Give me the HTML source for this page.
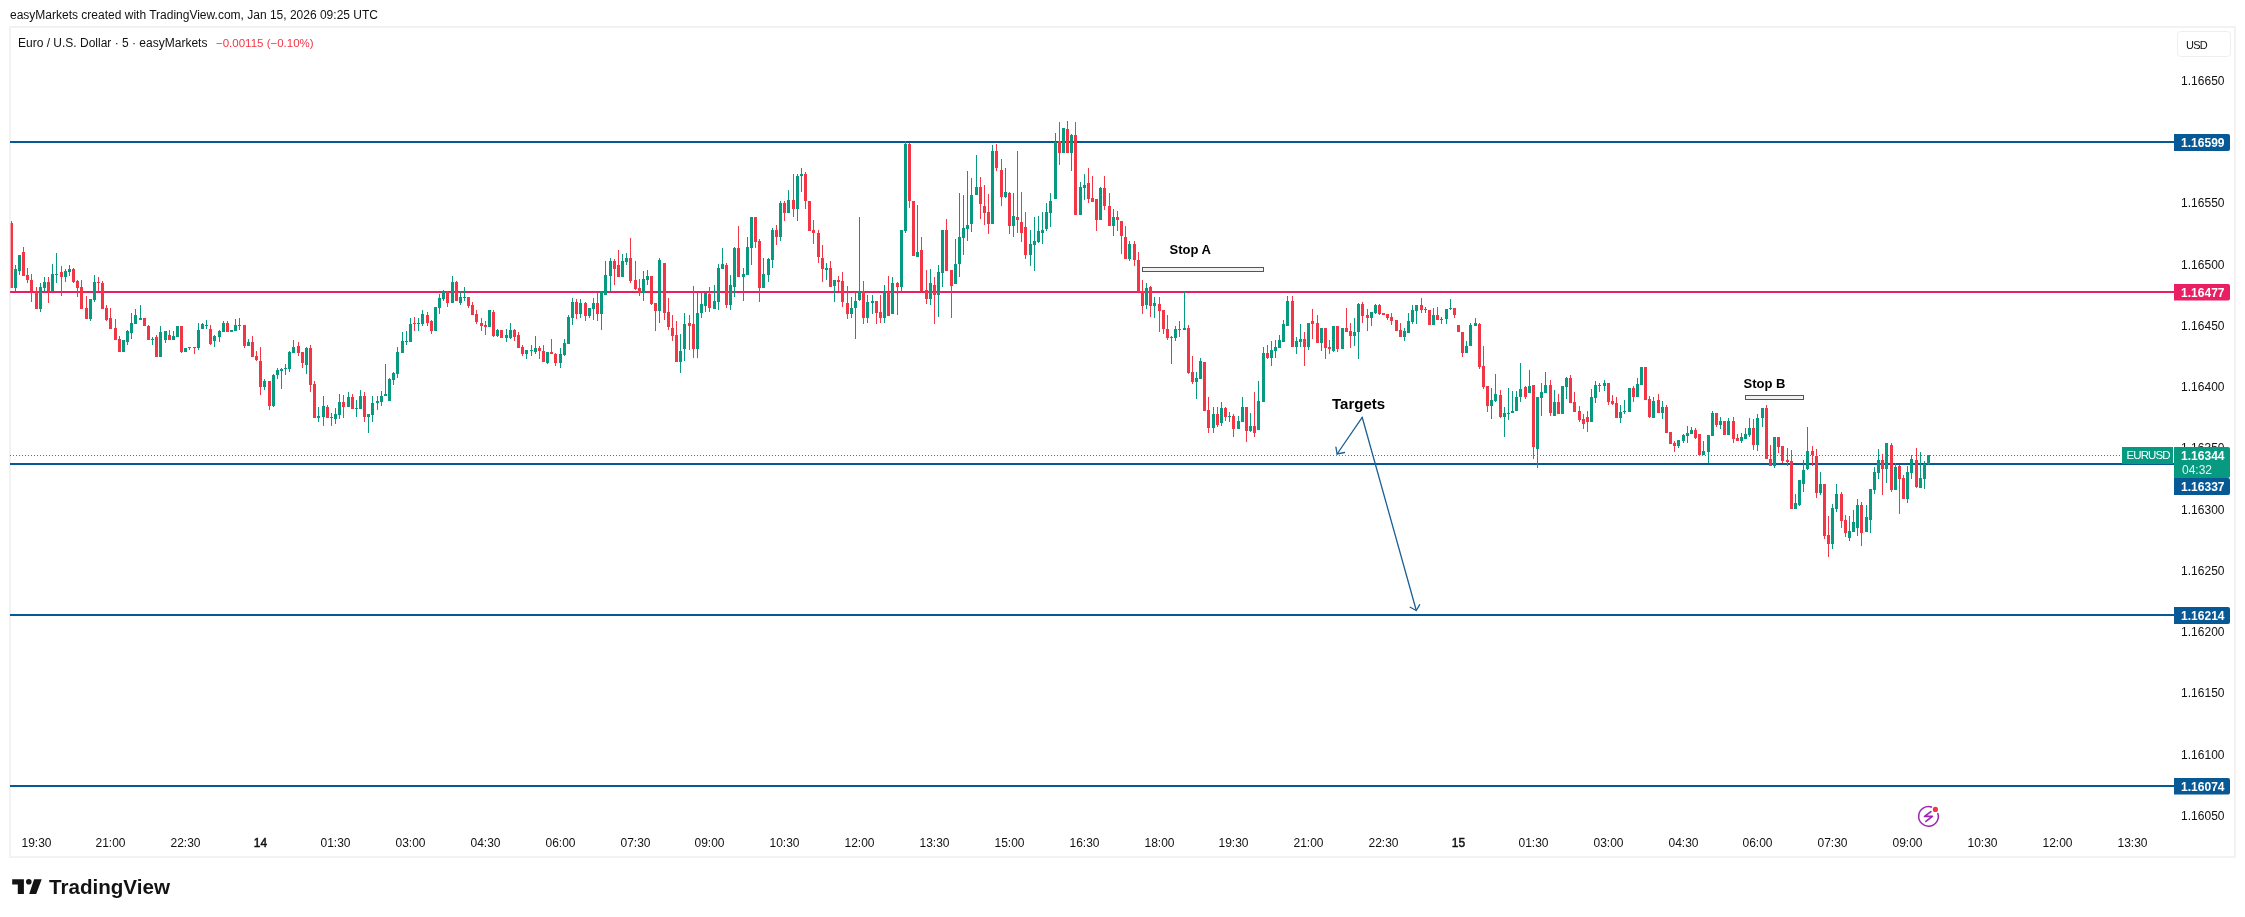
<!DOCTYPE html>
<html><head><meta charset="utf-8"><style>
html,body{margin:0;padding:0;background:#fff;}
body{width:2245px;height:917px;position:relative;overflow:hidden;font-family:"Liberation Sans", sans-serif;}
#frame{position:absolute;left:9px;top:26px;width:2227px;height:832px;box-sizing:border-box;border:2px solid #f2f2f2;}
svg{position:absolute;left:0;top:0;}
.tl{position:absolute;left:0;top:0;width:2245px;height:917px;will-change:transform;}
</style></head><body>
<div id="frame"></div>
<div class="tl"><div style="position:absolute;left:10px;top:15px;font-size:12px;font-weight:normal;color:#111111;line-height:0;white-space:nowrap;">easyMarkets created with TradingView.com, Jan 15, 2026 09:25 UTC</div>
<div style="position:absolute;left:18px;top:42.7px;font-size:12px;font-weight:normal;color:#111111;line-height:0;white-space:nowrap;">Euro / U.S. Dollar · 5 · easyMarkets</div>
<div style="position:absolute;left:216px;top:42.7px;font-size:11.5px;font-weight:normal;color:#f23645;line-height:0;white-space:nowrap;">−0.00115 (−0.10%)</div>
<div style="position:absolute;right:20.5px;top:80.8px;font-size:12px;font-weight:normal;color:#111111;line-height:0;white-space:nowrap;">1.16650</div>
<div style="position:absolute;right:20.5px;top:203.3000000000137px;font-size:12px;font-weight:normal;color:#111111;line-height:0;white-space:nowrap;">1.16550</div>
<div style="position:absolute;right:20.5px;top:264.55000000000695px;font-size:12px;font-weight:normal;color:#111111;line-height:0;white-space:nowrap;">1.16500</div>
<div style="position:absolute;right:20.5px;top:325.80000000000024px;font-size:12px;font-weight:normal;color:#111111;line-height:0;white-space:nowrap;">1.16450</div>
<div style="position:absolute;right:20.5px;top:387.0500000000207px;font-size:12px;font-weight:normal;color:#111111;line-height:0;white-space:nowrap;">1.16400</div>
<div style="position:absolute;right:20.5px;top:448.30000000001394px;font-size:12px;font-weight:normal;color:#111111;line-height:0;white-space:nowrap;">1.16350</div>
<div style="position:absolute;right:20.5px;top:509.5500000000072px;font-size:12px;font-weight:normal;color:#111111;line-height:0;white-space:nowrap;">1.16300</div>
<div style="position:absolute;right:20.5px;top:570.8000000000004px;font-size:12px;font-weight:normal;color:#111111;line-height:0;white-space:nowrap;">1.16250</div>
<div style="position:absolute;right:20.5px;top:632.0500000000209px;font-size:12px;font-weight:normal;color:#111111;line-height:0;white-space:nowrap;">1.16200</div>
<div style="position:absolute;right:20.5px;top:693.300000000014px;font-size:12px;font-weight:normal;color:#111111;line-height:0;white-space:nowrap;">1.16150</div>
<div style="position:absolute;right:20.5px;top:754.5500000000073px;font-size:12px;font-weight:normal;color:#111111;line-height:0;white-space:nowrap;">1.16100</div>
<div style="position:absolute;right:20.5px;top:815.8000000000006px;font-size:12px;font-weight:normal;color:#111111;line-height:0;white-space:nowrap;">1.16050</div></div>
<svg width="2245" height="917" viewBox="0 0 2245 917">
<defs><clipPath id="pane"><rect x="10" y="28" width="2164" height="800"/></clipPath></defs>
<rect x="10" y="141" width="2164" height="2" fill="#075995" shape-rendering="crispEdges"/>
<rect x="10" y="291" width="2164" height="2" fill="#e91e63" shape-rendering="crispEdges"/>
<rect x="10" y="463" width="2164" height="2" fill="#075995" shape-rendering="crispEdges"/>
<rect x="10" y="614" width="2164" height="2" fill="#075995" shape-rendering="crispEdges"/>
<rect x="10" y="785" width="2164" height="2" fill="#075995" shape-rendering="crispEdges"/>
<g clip-path="url(#pane)" shape-rendering="crispEdges">
<path fill="#089981" d="M15 265h1v26h-1zM19 255h1v20h-1zM40 283h1v29h-1zM44 277h1v14h-1zM52 264h1v27h-1zM56 253h1v30h-1zM65 269h1v13h-1zM69 265h1v11h-1zM90 299h1v22h-1zM94 275h1v27h-1zM123 340h1v12h-1zM127 330h1v15h-1zM131 313h1v26h-1zM135 309h1v15h-1zM140 305h1v15h-1zM152 337h1v8h-1zM160 326h1v31h-1zM165 331h1v12h-1zM173 331h1v9h-1zM177 326h1v11h-1zM185 348h1v4h-1zM189 347h1v3h-1zM198 323h1v27h-1zM202 323h1v6h-1zM206 320h1v9h-1zM214 335h1v12h-1zM219 330h1v12h-1zM223 321h1v11h-1zM231 330h1v2h-1zM235 319h1v12h-1zM239 318h1v12h-1zM248 339h1v7h-1zM264 379h1v11h-1zM273 374h1v33h-1zM277 368h1v11h-1zM281 368h1v21h-1zM285 364h1v11h-1zM289 351h1v21h-1zM293 340h1v13h-1zM306 347h1v27h-1zM318 407h1v15h-1zM323 396h1v30h-1zM331 413h1v13h-1zM335 408h1v16h-1zM339 394h1v25h-1zM348 392h1v15h-1zM356 400h1v17h-1zM360 390h1v19h-1zM368 414h1v19h-1zM372 396h1v26h-1zM377 396h1v14h-1zM381 391h1v15h-1zM385 364h1v32h-1zM389 378h1v23h-1zM393 372h1v13h-1zM397 347h1v31h-1zM402 332h1v21h-1zM406 331h1v14h-1zM410 318h1v24h-1zM418 318h1v13h-1zM422 310h1v16h-1zM435 307h1v24h-1zM439 294h1v20h-1zM443 290h1v11h-1zM452 276h1v27h-1zM460 291h1v14h-1zM464 287h1v14h-1zM489 310h1v17h-1zM497 329h1v8h-1zM506 329h1v13h-1zM510 323h1v16h-1zM526 350h1v9h-1zM531 345h1v11h-1zM535 336h1v18h-1zM547 352h1v12h-1zM560 348h1v20h-1zM564 339h1v17h-1zM568 315h1v29h-1zM572 298h1v27h-1zM580 299h1v19h-1zM589 308h1v10h-1zM593 298h1v22h-1zM601 291h1v39h-1zM605 261h1v34h-1zM610 258h1v33h-1zM622 254h1v23h-1zM626 253h1v12h-1zM643 271h1v30h-1zM647 270h1v15h-1zM659 258h1v65h-1zM680 334h1v39h-1zM684 313h1v48h-1zM697 292h1v66h-1zM701 292h1v26h-1zM705 291h1v21h-1zM714 285h1v24h-1zM718 264h1v46h-1zM722 248h1v21h-1zM730 275h1v35h-1zM734 247h1v50h-1zM743 268h1v33h-1zM747 237h1v38h-1zM751 217h1v48h-1zM763 258h1v30h-1zM768 258h1v24h-1zM772 228h1v40h-1zM780 201h1v40h-1zM788 190h1v23h-1zM797 174h1v47h-1zM801 168h1v24h-1zM826 263h1v17h-1zM834 280h1v22h-1zM851 297h1v21h-1zM855 292h1v47h-1zM859 217h1v84h-1zM867 295h1v28h-1zM872 295h1v19h-1zM884 285h1v38h-1zM892 277h1v37h-1zM901 230h1v62h-1zM905 141h1v92h-1zM917 205h1v52h-1zM930 269h1v36h-1zM938 265h1v52h-1zM942 230h1v57h-1zM955 239h1v45h-1zM959 193h1v84h-1zM963 195h1v60h-1zM967 171h1v70h-1zM971 178h1v54h-1zM976 155h1v40h-1zM992 145h1v79h-1zM1005 168h1v30h-1zM1013 193h1v44h-1zM1030 230h1v36h-1zM1034 217h1v54h-1zM1038 216h1v27h-1zM1042 212h1v32h-1zM1046 203h1v28h-1zM1050 193h1v34h-1zM1055 133h1v66h-1zM1063 128h1v25h-1zM1071 134h1v37h-1zM1080 182h1v33h-1zM1084 174h1v26h-1zM1100 187h1v33h-1zM1113 209h1v27h-1zM1129 241h1v20h-1zM1146 283h1v26h-1zM1154 297h1v21h-1zM1171 336h1v28h-1zM1175 326h1v15h-1zM1179 321h1v16h-1zM1184 291h1v39h-1zM1196 372h1v27h-1zM1200 358h1v21h-1zM1213 407h1v26h-1zM1221 402h1v24h-1zM1229 412h1v10h-1zM1238 416h1v13h-1zM1242 397h1v25h-1zM1250 413h1v19h-1zM1258 381h1v49h-1zM1263 347h1v55h-1zM1271 341h1v25h-1zM1275 340h1v18h-1zM1279 335h1v13h-1zM1283 320h1v22h-1zM1287 296h1v30h-1zM1296 337h1v17h-1zM1300 324h1v23h-1zM1308 323h1v27h-1zM1321 328h1v23h-1zM1333 326h1v26h-1zM1342 328h1v21h-1zM1354 318h1v28h-1zM1358 303h1v56h-1zM1371 312h1v14h-1zM1375 304h1v10h-1zM1404 328h1v13h-1zM1408 313h1v20h-1zM1412 305h1v19h-1zM1416 305h1v19h-1zM1425 307h1v6h-1zM1433 308h1v17h-1zM1441 317h1v7h-1zM1446 309h1v15h-1zM1450 299h1v11h-1zM1466 341h1v12h-1zM1470 323h1v23h-1zM1475 318h1v8h-1zM1491 388h1v31h-1zM1495 374h1v28h-1zM1504 407h1v30h-1zM1508 388h1v32h-1zM1512 391h1v22h-1zM1516 391h1v20h-1zM1520 363h1v39h-1zM1529 370h1v23h-1zM1537 397h1v71h-1zM1541 383h1v33h-1zM1545 372h1v21h-1zM1554 390h1v26h-1zM1562 386h1v28h-1zM1566 377h1v22h-1zM1591 389h1v33h-1zM1595 381h1v22h-1zM1599 383h1v9h-1zM1604 380h1v11h-1zM1620 405h1v18h-1zM1624 400h1v14h-1zM1629 388h1v24h-1zM1637 378h1v19h-1zM1641 367h1v18h-1zM1653 397h1v21h-1zM1662 401h1v18h-1zM1678 440h1v8h-1zM1683 434h1v9h-1zM1687 426h1v17h-1zM1691 427h1v7h-1zM1703 441h1v14h-1zM1708 435h1v28h-1zM1712 411h1v25h-1zM1720 417h1v12h-1zM1728 418h1v17h-1zM1741 433h1v10h-1zM1745 428h1v11h-1zM1749 418h1v19h-1zM1757 414h1v37h-1zM1762 408h1v19h-1zM1774 437h1v31h-1zM1795 494h1v15h-1zM1799 480h1v26h-1zM1803 460h1v32h-1zM1807 427h1v43h-1zM1820 472h1v23h-1zM1832 504h1v45h-1zM1836 484h1v28h-1zM1849 516h1v25h-1zM1853 510h1v22h-1zM1857 499h1v37h-1zM1866 505h1v27h-1zM1870 489h1v44h-1zM1874 467h1v27h-1zM1878 449h1v30h-1zM1886 443h1v40h-1zM1895 463h1v27h-1zM1907 466h1v37h-1zM1911 455h1v24h-1zM1920 452h1v36h-1zM1924 461h1v28h-1zM1928 455h1v10h-1zM14 269h3v19h-3zM18 255h3v16h-3zM39 287h3v22h-3zM43 282h3v6h-3zM51 274h3v17h-3zM55 274h3v1h-3zM64 271h3v6h-3zM68 269h3v3h-3zM89 299h3v20h-3zM93 282h3v18h-3zM122 340h3v12h-3zM126 331h3v11h-3zM130 323h3v10h-3zM134 315h3v9h-3zM139 318h3v2h-3zM151 339h3v1h-3zM159 332h3v25h-3zM164 331h3v9h-3zM172 336h3v4h-3zM176 326h3v11h-3zM184 348h3v4h-3zM188 347h3v1h-3zM197 330h3v18h-3zM201 324h3v5h-3zM205 325h3v1h-3zM213 336h3v5h-3zM218 331h3v6h-3zM222 323h3v9h-3zM230 330h3v2h-3zM234 325h3v6h-3zM238 325h3v1h-3zM247 342h3v4h-3zM263 381h3v6h-3zM272 375h3v31h-3zM276 370h3v5h-3zM280 369h3v2h-3zM284 368h3v1h-3zM288 352h3v17h-3zM292 347h3v6h-3zM305 348h3v17h-3zM317 416h3v2h-3zM322 406h3v11h-3zM330 417h3v1h-3zM334 414h3v5h-3zM338 402h3v13h-3zM347 397h3v10h-3zM355 408h3v1h-3zM359 396h3v13h-3zM367 414h3v3h-3zM371 403h3v12h-3zM376 401h3v2h-3zM380 396h3v6h-3zM384 394h3v2h-3zM388 379h3v22h-3zM392 373h3v7h-3zM396 352h3v22h-3zM401 341h3v12h-3zM405 341h3v1h-3zM409 324h3v18h-3zM417 323h3v1h-3zM421 314h3v10h-3zM434 307h3v24h-3zM438 298h3v10h-3zM442 291h3v8h-3zM451 282h3v21h-3zM459 297h3v6h-3zM463 297h3v1h-3zM488 310h3v17h-3zM496 330h3v6h-3zM505 335h3v3h-3zM509 330h3v8h-3zM525 350h3v4h-3zM530 350h3v1h-3zM534 348h3v4h-3zM546 352h3v11h-3zM559 354h3v9h-3zM563 343h3v12h-3zM567 317h3v27h-3zM571 302h3v16h-3zM579 303h3v11h-3zM588 308h3v8h-3zM592 303h3v6h-3zM600 292h3v22h-3zM604 275h3v20h-3zM609 261h3v15h-3zM621 261h3v16h-3zM625 258h3v4h-3zM642 279h3v14h-3zM646 276h3v4h-3zM658 260h3v51h-3zM679 351h3v11h-3zM683 324h3v25h-3zM696 313h3v36h-3zM700 304h3v9h-3zM704 293h3v13h-3zM713 301h3v8h-3zM717 268h3v34h-3zM721 264h3v5h-3zM729 285h3v20h-3zM733 248h3v39h-3zM742 274h3v3h-3zM746 247h3v28h-3zM750 217h3v31h-3zM762 274h3v14h-3zM767 259h3v16h-3zM771 230h3v30h-3zM779 203h3v34h-3zM787 200h3v13h-3zM796 176h3v33h-3zM800 174h3v2h-3zM825 268h3v2h-3zM833 280h3v6h-3zM850 308h3v6h-3zM854 301h3v7h-3zM858 291h3v9h-3zM866 302h3v16h-3zM871 301h3v2h-3zM883 292h3v26h-3zM891 283h3v31h-3zM900 230h3v57h-3zM904 144h3v87h-3zM916 252h3v5h-3zM929 283h3v16h-3zM937 272h3v23h-3zM941 230h3v43h-3zM954 264h3v20h-3zM958 237h3v27h-3zM962 228h3v10h-3zM966 225h3v4h-3zM970 195h3v29h-3zM975 187h3v8h-3zM991 151h3v73h-3zM1004 192h3v5h-3zM1012 216h3v10h-3zM1029 244h3v11h-3zM1033 241h3v4h-3zM1037 231h3v11h-3zM1041 230h3v3h-3zM1045 212h3v17h-3zM1049 201h3v12h-3zM1054 142h3v57h-3zM1062 128h3v25h-3zM1070 135h3v18h-3zM1079 187h3v28h-3zM1083 185h3v3h-3zM1099 188h3v32h-3zM1112 217h3v9h-3zM1128 244h3v15h-3zM1145 288h3v17h-3zM1153 303h3v3h-3zM1170 337h3v1h-3zM1174 329h3v9h-3zM1178 329h3v1h-3zM1183 328h3v2h-3zM1195 378h3v4h-3zM1199 361h3v18h-3zM1212 414h3v14h-3zM1220 408h3v15h-3zM1228 416h3v1h-3zM1237 421h3v8h-3zM1241 407h3v15h-3zM1249 426h3v5h-3zM1257 401h3v29h-3zM1262 353h3v49h-3zM1270 350h3v8h-3zM1274 347h3v4h-3zM1278 340h3v8h-3zM1282 324h3v18h-3zM1286 301h3v25h-3zM1295 341h3v6h-3zM1299 339h3v3h-3zM1307 323h3v24h-3zM1320 328h3v15h-3zM1332 326h3v25h-3zM1341 328h3v21h-3zM1353 332h3v4h-3zM1357 304h3v28h-3zM1370 312h3v6h-3zM1374 305h3v8h-3zM1403 331h3v6h-3zM1407 321h3v12h-3zM1411 310h3v12h-3zM1415 305h3v6h-3zM1424 309h3v1h-3zM1432 315h3v10h-3zM1440 319h3v1h-3zM1445 309h3v10h-3zM1449 308h3v1h-3zM1465 346h3v7h-3zM1469 325h3v21h-3zM1474 323h3v3h-3zM1490 400h3v6h-3zM1494 394h3v7h-3zM1503 413h3v4h-3zM1507 413h3v1h-3zM1511 411h3v2h-3zM1515 397h3v14h-3zM1519 389h3v8h-3zM1528 386h3v7h-3zM1536 397h3v52h-3zM1540 392h3v6h-3zM1544 385h3v8h-3zM1553 402h3v14h-3zM1561 386h3v28h-3zM1565 378h3v9h-3zM1590 397h3v25h-3zM1594 385h3v13h-3zM1598 385h3v1h-3zM1603 383h3v3h-3zM1619 412h3v6h-3zM1623 411h3v1h-3zM1628 388h3v24h-3zM1636 384h3v13h-3zM1640 367h3v18h-3zM1652 401h3v17h-3zM1661 407h3v6h-3zM1677 440h3v6h-3zM1682 435h3v6h-3zM1686 433h3v3h-3zM1690 430h3v4h-3zM1702 451h3v4h-3zM1707 435h3v17h-3zM1711 413h3v23h-3zM1719 421h3v4h-3zM1727 421h3v14h-3zM1740 437h3v4h-3zM1744 434h3v5h-3zM1748 428h3v7h-3zM1756 418h3v27h-3zM1761 408h3v10h-3zM1773 437h3v29h-3zM1794 503h3v6h-3zM1798 480h3v25h-3zM1802 470h3v14h-3zM1806 451h3v18h-3zM1819 484h3v9h-3zM1831 508h3v36h-3zM1835 494h3v15h-3zM1848 531h3v7h-3zM1852 522h3v10h-3zM1856 505h3v23h-3zM1865 517h3v15h-3zM1869 489h3v31h-3zM1873 472h3v18h-3zM1877 460h3v13h-3zM1885 443h3v26h-3zM1894 467h3v23h-3zM1906 472h3v27h-3zM1910 459h3v14h-3zM1919 478h3v10h-3zM1923 464h3v15h-3zM1927 455h3v9h-3z"/>
<path fill="#f23645" d="M11 221h1v67h-1zM23 247h1v29h-1zM27 268h1v15h-1zM31 274h1v28h-1zM36 287h1v22h-1zM48 277h1v26h-1zM61 266h1v30h-1zM73 268h1v15h-1zM77 280h1v17h-1zM81 280h1v29h-1zM86 296h1v23h-1zM98 277h1v15h-1zM102 281h1v28h-1zM106 305h1v16h-1zM110 308h1v21h-1zM115 319h1v21h-1zM119 336h1v16h-1zM144 318h1v8h-1zM148 325h1v15h-1zM156 335h1v22h-1zM169 330h1v10h-1zM181 326h1v27h-1zM194 347h1v7h-1zM210 325h1v20h-1zM227 321h1v11h-1zM244 325h1v23h-1zM252 336h1v21h-1zM256 351h1v10h-1zM260 347h1v48h-1zM269 381h1v29h-1zM298 342h1v14h-1zM302 352h1v16h-1zM310 345h1v47h-1zM314 381h1v37h-1zM327 405h1v13h-1zM343 395h1v23h-1zM352 394h1v15h-1zM364 392h1v30h-1zM414 317h1v14h-1zM427 312h1v14h-1zM431 320h1v14h-1zM447 291h1v16h-1zM456 281h1v20h-1zM468 297h1v11h-1zM472 302h1v13h-1zM476 310h1v14h-1zM481 318h1v13h-1zM485 321h1v14h-1zM493 310h1v27h-1zM501 330h1v8h-1zM514 329h1v12h-1zM518 332h1v16h-1zM522 345h1v11h-1zM539 346h1v13h-1zM543 345h1v17h-1zM551 339h1v15h-1zM555 353h1v13h-1zM576 299h1v20h-1zM585 302h1v19h-1zM597 292h1v29h-1zM614 259h1v26h-1zM618 250h1v27h-1zM630 238h1v45h-1zM635 261h1v29h-1zM639 279h1v17h-1zM651 276h1v29h-1zM655 303h1v28h-1zM664 263h1v57h-1zM668 298h1v32h-1zM672 315h1v26h-1zM676 321h1v41h-1zM689 315h1v35h-1zM693 286h1v72h-1zM709 287h1v25h-1zM726 263h1v45h-1zM738 226h1v51h-1zM755 217h1v31h-1zM759 239h1v63h-1zM776 225h1v20h-1zM784 201h1v20h-1zM793 174h1v43h-1zM805 172h1v37h-1zM809 201h1v30h-1zM813 220h1v24h-1zM818 230h1v33h-1zM822 245h1v37h-1zM830 261h1v26h-1zM838 276h1v15h-1zM842 272h1v35h-1zM847 286h1v33h-1zM863 281h1v43h-1zM876 301h1v23h-1zM880 295h1v28h-1zM888 276h1v40h-1zM897 282h1v33h-1zM909 143h1v65h-1zM913 201h1v55h-1zM921 237h1v54h-1zM926 270h1v34h-1zM934 277h1v47h-1zM946 219h1v52h-1zM951 270h1v48h-1zM980 177h1v42h-1zM984 185h1v40h-1zM988 194h1v40h-1zM996 144h1v27h-1zM1001 159h1v47h-1zM1009 192h1v42h-1zM1017 151h1v82h-1zM1021 192h1v50h-1zM1025 212h1v47h-1zM1059 122h1v43h-1zM1067 121h1v32h-1zM1075 122h1v93h-1zM1088 168h1v35h-1zM1092 176h1v26h-1zM1096 199h1v32h-1zM1104 176h1v34h-1zM1109 193h1v33h-1zM1117 211h1v20h-1zM1121 221h1v33h-1zM1125 226h1v33h-1zM1134 241h1v25h-1zM1138 252h1v40h-1zM1142 280h1v34h-1zM1150 286h1v31h-1zM1159 297h1v35h-1zM1163 310h1v24h-1zM1167 315h1v25h-1zM1188 325h1v49h-1zM1192 356h1v28h-1zM1204 362h1v49h-1zM1208 397h1v36h-1zM1217 407h1v20h-1zM1225 407h1v14h-1zM1233 414h1v23h-1zM1246 407h1v35h-1zM1254 392h1v45h-1zM1267 345h1v14h-1zM1292 296h1v51h-1zM1304 332h1v34h-1zM1312 309h1v30h-1zM1317 315h1v28h-1zM1325 328h1v31h-1zM1329 340h1v14h-1zM1337 326h1v26h-1zM1346 308h1v24h-1zM1350 323h1v25h-1zM1362 302h1v21h-1zM1367 309h1v22h-1zM1379 304h1v11h-1zM1383 313h1v2h-1zM1387 314h1v6h-1zM1391 313h1v12h-1zM1396 320h1v11h-1zM1400 323h1v14h-1zM1421 298h1v15h-1zM1429 310h1v15h-1zM1437 307h1v13h-1zM1454 308h1v10h-1zM1458 325h1v7h-1zM1462 332h1v25h-1zM1479 323h1v46h-1zM1483 346h1v43h-1zM1487 386h1v26h-1zM1500 390h1v28h-1zM1525 386h1v13h-1zM1533 385h1v74h-1zM1550 380h1v36h-1zM1558 394h1v20h-1zM1570 375h1v28h-1zM1574 392h1v20h-1zM1579 406h1v16h-1zM1583 414h1v15h-1zM1587 411h1v21h-1zM1608 383h1v22h-1zM1612 395h1v10h-1zM1616 397h1v21h-1zM1633 386h1v16h-1zM1645 367h1v33h-1zM1649 396h1v22h-1zM1658 394h1v19h-1zM1666 405h1v28h-1zM1670 432h1v12h-1zM1674 441h1v11h-1zM1695 428h1v11h-1zM1699 434h1v21h-1zM1716 413h1v14h-1zM1724 421h1v14h-1zM1733 417h1v26h-1zM1737 434h1v7h-1zM1753 419h1v31h-1zM1766 405h1v54h-1zM1770 445h1v21h-1zM1778 437h1v16h-1zM1782 446h1v17h-1zM1787 448h1v18h-1zM1791 450h1v59h-1zM1812 446h1v20h-1zM1816 449h1v49h-1zM1824 484h1v55h-1zM1828 516h1v41h-1zM1841 492h1v36h-1zM1845 515h1v22h-1zM1861 502h1v44h-1zM1882 454h1v41h-1zM1891 443h1v49h-1zM1899 465h1v49h-1zM1903 475h1v24h-1zM1916 448h1v40h-1zM10 223h3v65h-3zM22 252h3v24h-3zM26 275h3v5h-3zM30 280h3v11h-3zM35 291h3v18h-3zM47 282h3v9h-3zM60 272h3v5h-3zM72 269h3v13h-3zM76 281h3v7h-3zM80 287h3v22h-3zM85 308h3v11h-3zM97 282h3v1h-3zM101 283h3v26h-3zM105 308h3v12h-3zM109 318h3v11h-3zM114 328h3v12h-3zM118 339h3v13h-3zM143 318h3v8h-3zM147 326h3v14h-3zM155 337h3v20h-3zM168 335h3v5h-3zM180 326h3v26h-3zM193 347h3v1h-3zM209 329h3v15h-3zM226 323h3v9h-3zM243 325h3v21h-3zM251 342h3v15h-3zM255 356h3v4h-3zM259 361h3v26h-3zM268 381h3v25h-3zM297 346h3v7h-3zM301 352h3v11h-3zM309 348h3v37h-3zM313 384h3v34h-3zM326 407h3v11h-3zM342 402h3v5h-3zM351 397h3v12h-3zM363 396h3v21h-3zM413 323h3v1h-3zM426 315h3v8h-3zM430 321h3v10h-3zM446 292h3v11h-3zM455 282h3v19h-3zM467 297h3v9h-3zM471 305h3v10h-3zM475 314h3v8h-3zM480 323h3v3h-3zM484 325h3v2h-3zM492 312h3v24h-3zM500 330h3v8h-3zM513 330h3v7h-3zM517 335h3v13h-3zM521 347h3v7h-3zM538 348h3v3h-3zM542 351h3v11h-3zM550 352h3v2h-3zM554 354h3v9h-3zM575 302h3v12h-3zM584 303h3v13h-3zM596 303h3v11h-3zM613 261h3v8h-3zM617 265h3v12h-3zM629 258h3v23h-3zM634 280h3v9h-3zM638 288h3v5h-3zM650 276h3v28h-3zM654 303h3v8h-3zM663 263h3v50h-3zM667 312h3v15h-3zM671 328h3v8h-3zM675 335h3v27h-3zM688 323h3v3h-3zM692 324h3v25h-3zM708 294h3v14h-3zM725 265h3v40h-3zM737 248h3v29h-3zM754 217h3v25h-3zM758 241h3v47h-3zM775 230h3v7h-3zM783 203h3v10h-3zM792 200h3v9h-3zM804 174h3v27h-3zM808 201h3v30h-3zM812 230h3v3h-3zM817 233h3v24h-3zM821 258h3v11h-3zM829 268h3v19h-3zM837 280h3v2h-3zM841 281h3v21h-3zM846 303h3v11h-3zM862 291h3v27h-3zM875 301h3v12h-3zM879 312h3v6h-3zM887 292h3v24h-3zM896 283h3v4h-3zM908 144h3v57h-3zM912 201h3v55h-3zM920 250h3v41h-3zM925 290h3v9h-3zM933 285h3v10h-3zM945 230h3v41h-3zM950 270h3v16h-3zM979 187h3v17h-3zM983 206h3v7h-3zM987 212h3v12h-3zM995 151h3v17h-3zM1000 170h3v27h-3zM1008 193h3v33h-3zM1016 217h3v3h-3zM1020 222h3v11h-3zM1024 227h3v28h-3zM1058 141h3v12h-3zM1066 129h3v24h-3zM1074 135h3v80h-3zM1087 183h3v16h-3zM1091 198h3v4h-3zM1095 199h3v21h-3zM1103 188h3v18h-3zM1108 206h3v20h-3zM1116 217h3v3h-3zM1120 221h3v15h-3zM1124 237h3v22h-3zM1133 244h3v16h-3zM1137 260h3v32h-3zM1141 291h3v15h-3zM1149 287h3v19h-3zM1158 304h3v7h-3zM1162 310h3v19h-3zM1166 329h3v9h-3zM1187 328h3v45h-3zM1191 372h3v10h-3zM1203 362h3v49h-3zM1207 410h3v18h-3zM1216 414h3v11h-3zM1224 408h3v9h-3zM1232 416h3v13h-3zM1245 407h3v24h-3zM1253 426h3v7h-3zM1266 353h3v5h-3zM1291 301h3v46h-3zM1303 339h3v8h-3zM1311 321h3v3h-3zM1316 323h3v20h-3zM1324 328h3v20h-3zM1328 347h3v2h-3zM1336 326h3v23h-3zM1345 328h3v4h-3zM1349 331h3v5h-3zM1361 304h3v12h-3zM1366 315h3v3h-3zM1378 305h3v9h-3zM1382 313h3v2h-3zM1386 314h3v4h-3zM1390 317h3v4h-3zM1395 320h3v11h-3zM1399 330h3v7h-3zM1420 305h3v5h-3zM1428 310h3v15h-3zM1436 315h3v5h-3zM1453 308h3v7h-3zM1457 325h3v7h-3zM1461 332h3v21h-3zM1478 324h3v43h-3zM1482 366h3v21h-3zM1486 386h3v20h-3zM1499 395h3v22h-3zM1524 387h3v10h-3zM1532 385h3v62h-3zM1549 385h3v28h-3zM1557 402h3v12h-3zM1569 378h3v25h-3zM1573 402h3v10h-3zM1578 411h3v9h-3zM1582 419h3v5h-3zM1586 417h3v5h-3zM1607 383h3v19h-3zM1611 401h3v3h-3zM1615 403h3v15h-3zM1632 388h3v9h-3zM1644 367h3v33h-3zM1648 399h3v18h-3zM1657 400h3v13h-3zM1665 407h3v26h-3zM1669 432h3v12h-3zM1673 443h3v3h-3zM1694 430h3v8h-3zM1698 434h3v21h-3zM1715 413h3v12h-3zM1723 421h3v14h-3zM1732 421h3v18h-3zM1736 438h3v3h-3zM1752 428h3v17h-3zM1765 408h3v51h-3zM1769 459h3v7h-3zM1777 437h3v10h-3zM1781 446h3v15h-3zM1786 460h3v2h-3zM1790 461h3v48h-3zM1811 451h3v4h-3zM1815 456h3v37h-3zM1823 484h3v52h-3zM1827 535h3v9h-3zM1840 494h3v27h-3zM1844 520h3v13h-3zM1860 505h3v28h-3zM1881 460h3v9h-3zM1890 445h3v45h-3zM1898 466h3v13h-3zM1902 478h3v21h-3zM1915 460h3v27h-3z"/>
</g>
<rect x="10" y="221" width="1" height="67" fill="#f6f6f6" opacity="0.6"/>
<line x1="10" y1="455.5" x2="2122" y2="455.5" stroke="#089981" stroke-width="1" stroke-dasharray="1 2" shape-rendering="crispEdges"/>
<rect x="1142.5" y="267.5" width="121" height="4" fill="#f2f2f2" stroke="#555" stroke-width="1"/>
<rect x="1745.5" y="395.5" width="58" height="4" fill="#f2f2f2" stroke="#555" stroke-width="1"/>
<g stroke="#1a5f95" stroke-width="1.3" fill="none" stroke-linecap="round"><path d="M1362.2 417.3 L1337.1 454"/><path d="M1335.9 447.1 L1337.1 454 L1344.6 452.5"/><path d="M1362.2 417.3 L1416.3 610.5"/><path d="M1410.2 607.2 L1416.3 610.5 L1419.7 604.7"/></g>
<g fill="none" stroke="#9c27b0" stroke-width="1.5"><path d="M1937.85 813.45 A9.8 9.8 0 1 1 1931.53 807.08" stroke-linecap="round"/><path d="M1930.9 811.6 L1924.6 816.4 L1932.4 816.4 L1925.9 821.4" stroke-width="1.7" stroke-linejoin="round" stroke-linecap="round"/></g><circle cx="1935.4" cy="809.4" r="2.6" fill="#f23645"/>
<g fill="#131313"><path d="M12.2 879.2 H23.9 V894 H17.8 V884.5 H12.2 Z"/><circle cx="28.8" cy="881.8" r="2.8"/><path d="M34.1 879.2 H41.7 L36.2 894 H29.2 Z"/></g>
<path d="M2174 134 H2228 Q2230 134 2230 136 V149 Q2230 151 2228 151 H2174 Z" fill="#075995"/>
<path d="M2174 284 H2228 Q2230 284 2230 286 V298.5 Q2230 300.5 2228 300.5 H2174 Z" fill="#e91e63"/>
<path d="M2174 447 H2228 Q2230 447 2230 449 V476 Q2230 478 2228 478 H2174 Z" fill="#089981"/>
<rect x="2122" y="447" width="51" height="17" fill="#089981"/>
<path d="M2174 478 H2228 Q2230 478 2230 480 V493 Q2230 495 2228 495 H2174 Z" fill="#075995"/>
<path d="M2174 607 H2228 Q2230 607 2230 609 V622 Q2230 624 2228 624 H2174 Z" fill="#075995"/>
<path d="M2174 778 H2228 Q2230 778 2230 780 V792.5 Q2230 794.5 2228 794.5 H2174 Z" fill="#075995"/>
</svg>
<div class="tl"><div style="position:absolute;right:20.5px;top:142.5px;font-size:12px;font-weight:bold;color:#fff;line-height:0;white-space:nowrap;">1.16599</div>
<div style="position:absolute;right:20.5px;top:292.5px;font-size:12px;font-weight:bold;color:#fff;line-height:0;white-space:nowrap;">1.16477</div>
<div style="position:absolute;right:20.5px;top:456px;font-size:12px;font-weight:bold;color:#fff;line-height:0;white-space:nowrap;">1.16344</div>
<div style="position:absolute;left:2182px;top:469.8px;font-size:12px;font-weight:normal;color:#e6f5f2;line-height:0;white-space:nowrap;">04:32</div>
<div style="position:absolute;right:20.5px;top:486.6px;font-size:12px;font-weight:bold;color:#fff;line-height:0;white-space:nowrap;">1.16337</div>
<div style="position:absolute;right:20.5px;top:615.6px;font-size:12px;font-weight:bold;color:#fff;line-height:0;white-space:nowrap;">1.16214</div>
<div style="position:absolute;right:20.5px;top:786.6px;font-size:12px;font-weight:bold;color:#fff;line-height:0;white-space:nowrap;">1.16074</div>
<div style="position:absolute;left:2126.5px;top:455.3px;font-size:11.5px;font-weight:normal;color:#fff;line-height:0;white-space:nowrap;letter-spacing:-0.9px">EURUSD</div>
<div style="position:absolute;left:2176.5px;top:30.5px;width:54.5px;height:26.5px;box-sizing:border-box;border:1.5px solid #eeeeee;border-radius:4px"></div>
<div style="position:absolute;left:2186px;top:45px;font-size:11px;font-weight:normal;color:#111111;line-height:0;white-space:nowrap;letter-spacing:-0.8px">USD</div>
<div style="position:absolute;left:-63.5px;width:200px;text-align:center;top:842.8px;font-size:12px;font-weight:normal;color:#111111;line-height:0;white-space:nowrap;">19:30</div>
<div style="position:absolute;left:10.5px;width:200px;text-align:center;top:842.8px;font-size:12px;font-weight:normal;color:#111111;line-height:0;white-space:nowrap;">21:00</div>
<div style="position:absolute;left:85.5px;width:200px;text-align:center;top:842.8px;font-size:12px;font-weight:normal;color:#111111;line-height:0;white-space:nowrap;">22:30</div>
<div style="position:absolute;left:160.5px;width:200px;text-align:center;top:842.8px;font-size:12px;font-weight:normal;color:#111111;line-height:0;white-space:nowrap;-webkit-text-stroke:0.45px #111111">14</div>
<div style="position:absolute;left:235.5px;width:200px;text-align:center;top:842.8px;font-size:12px;font-weight:normal;color:#111111;line-height:0;white-space:nowrap;">01:30</div>
<div style="position:absolute;left:310.5px;width:200px;text-align:center;top:842.8px;font-size:12px;font-weight:normal;color:#111111;line-height:0;white-space:nowrap;">03:00</div>
<div style="position:absolute;left:385.5px;width:200px;text-align:center;top:842.8px;font-size:12px;font-weight:normal;color:#111111;line-height:0;white-space:nowrap;">04:30</div>
<div style="position:absolute;left:460.5px;width:200px;text-align:center;top:842.8px;font-size:12px;font-weight:normal;color:#111111;line-height:0;white-space:nowrap;">06:00</div>
<div style="position:absolute;left:535.5px;width:200px;text-align:center;top:842.8px;font-size:12px;font-weight:normal;color:#111111;line-height:0;white-space:nowrap;">07:30</div>
<div style="position:absolute;left:609.5px;width:200px;text-align:center;top:842.8px;font-size:12px;font-weight:normal;color:#111111;line-height:0;white-space:nowrap;">09:00</div>
<div style="position:absolute;left:684.5px;width:200px;text-align:center;top:842.8px;font-size:12px;font-weight:normal;color:#111111;line-height:0;white-space:nowrap;">10:30</div>
<div style="position:absolute;left:759.5px;width:200px;text-align:center;top:842.8px;font-size:12px;font-weight:normal;color:#111111;line-height:0;white-space:nowrap;">12:00</div>
<div style="position:absolute;left:834.5px;width:200px;text-align:center;top:842.8px;font-size:12px;font-weight:normal;color:#111111;line-height:0;white-space:nowrap;">13:30</div>
<div style="position:absolute;left:909.5px;width:200px;text-align:center;top:842.8px;font-size:12px;font-weight:normal;color:#111111;line-height:0;white-space:nowrap;">15:00</div>
<div style="position:absolute;left:984.5px;width:200px;text-align:center;top:842.8px;font-size:12px;font-weight:normal;color:#111111;line-height:0;white-space:nowrap;">16:30</div>
<div style="position:absolute;left:1059.5px;width:200px;text-align:center;top:842.8px;font-size:12px;font-weight:normal;color:#111111;line-height:0;white-space:nowrap;">18:00</div>
<div style="position:absolute;left:1133.5px;width:200px;text-align:center;top:842.8px;font-size:12px;font-weight:normal;color:#111111;line-height:0;white-space:nowrap;">19:30</div>
<div style="position:absolute;left:1208.5px;width:200px;text-align:center;top:842.8px;font-size:12px;font-weight:normal;color:#111111;line-height:0;white-space:nowrap;">21:00</div>
<div style="position:absolute;left:1283.5px;width:200px;text-align:center;top:842.8px;font-size:12px;font-weight:normal;color:#111111;line-height:0;white-space:nowrap;">22:30</div>
<div style="position:absolute;left:1358.5px;width:200px;text-align:center;top:842.8px;font-size:12px;font-weight:normal;color:#111111;line-height:0;white-space:nowrap;-webkit-text-stroke:0.45px #111111">15</div>
<div style="position:absolute;left:1433.5px;width:200px;text-align:center;top:842.8px;font-size:12px;font-weight:normal;color:#111111;line-height:0;white-space:nowrap;">01:30</div>
<div style="position:absolute;left:1508.5px;width:200px;text-align:center;top:842.8px;font-size:12px;font-weight:normal;color:#111111;line-height:0;white-space:nowrap;">03:00</div>
<div style="position:absolute;left:1583.5px;width:200px;text-align:center;top:842.8px;font-size:12px;font-weight:normal;color:#111111;line-height:0;white-space:nowrap;">04:30</div>
<div style="position:absolute;left:1657.5px;width:200px;text-align:center;top:842.8px;font-size:12px;font-weight:normal;color:#111111;line-height:0;white-space:nowrap;">06:00</div>
<div style="position:absolute;left:1732.5px;width:200px;text-align:center;top:842.8px;font-size:12px;font-weight:normal;color:#111111;line-height:0;white-space:nowrap;">07:30</div>
<div style="position:absolute;left:1807.5px;width:200px;text-align:center;top:842.8px;font-size:12px;font-weight:normal;color:#111111;line-height:0;white-space:nowrap;">09:00</div>
<div style="position:absolute;left:1882.5px;width:200px;text-align:center;top:842.8px;font-size:12px;font-weight:normal;color:#111111;line-height:0;white-space:nowrap;">10:30</div>
<div style="position:absolute;left:1957.5px;width:200px;text-align:center;top:842.8px;font-size:12px;font-weight:normal;color:#111111;line-height:0;white-space:nowrap;">12:00</div>
<div style="position:absolute;left:2032.5px;width:200px;text-align:center;top:842.8px;font-size:12px;font-weight:normal;color:#111111;line-height:0;white-space:nowrap;">13:30</div>
<div style="position:absolute;left:1169.5px;top:250px;font-size:13px;font-weight:bold;color:#000;line-height:0;white-space:nowrap;">Stop A</div>
<div style="position:absolute;left:1743.5px;top:384px;font-size:13px;font-weight:bold;color:#000;line-height:0;white-space:nowrap;">Stop B</div>
<div style="position:absolute;left:1332px;top:403.5px;font-size:15px;font-weight:bold;color:#000;line-height:0;white-space:nowrap;">Targets</div>
<div style="position:absolute;left:49px;top:886.5px;font-size:20.6px;font-weight:bold;color:#131313;line-height:0;white-space:nowrap;letter-spacing:0px">TradingView</div></div>
</body></html>
